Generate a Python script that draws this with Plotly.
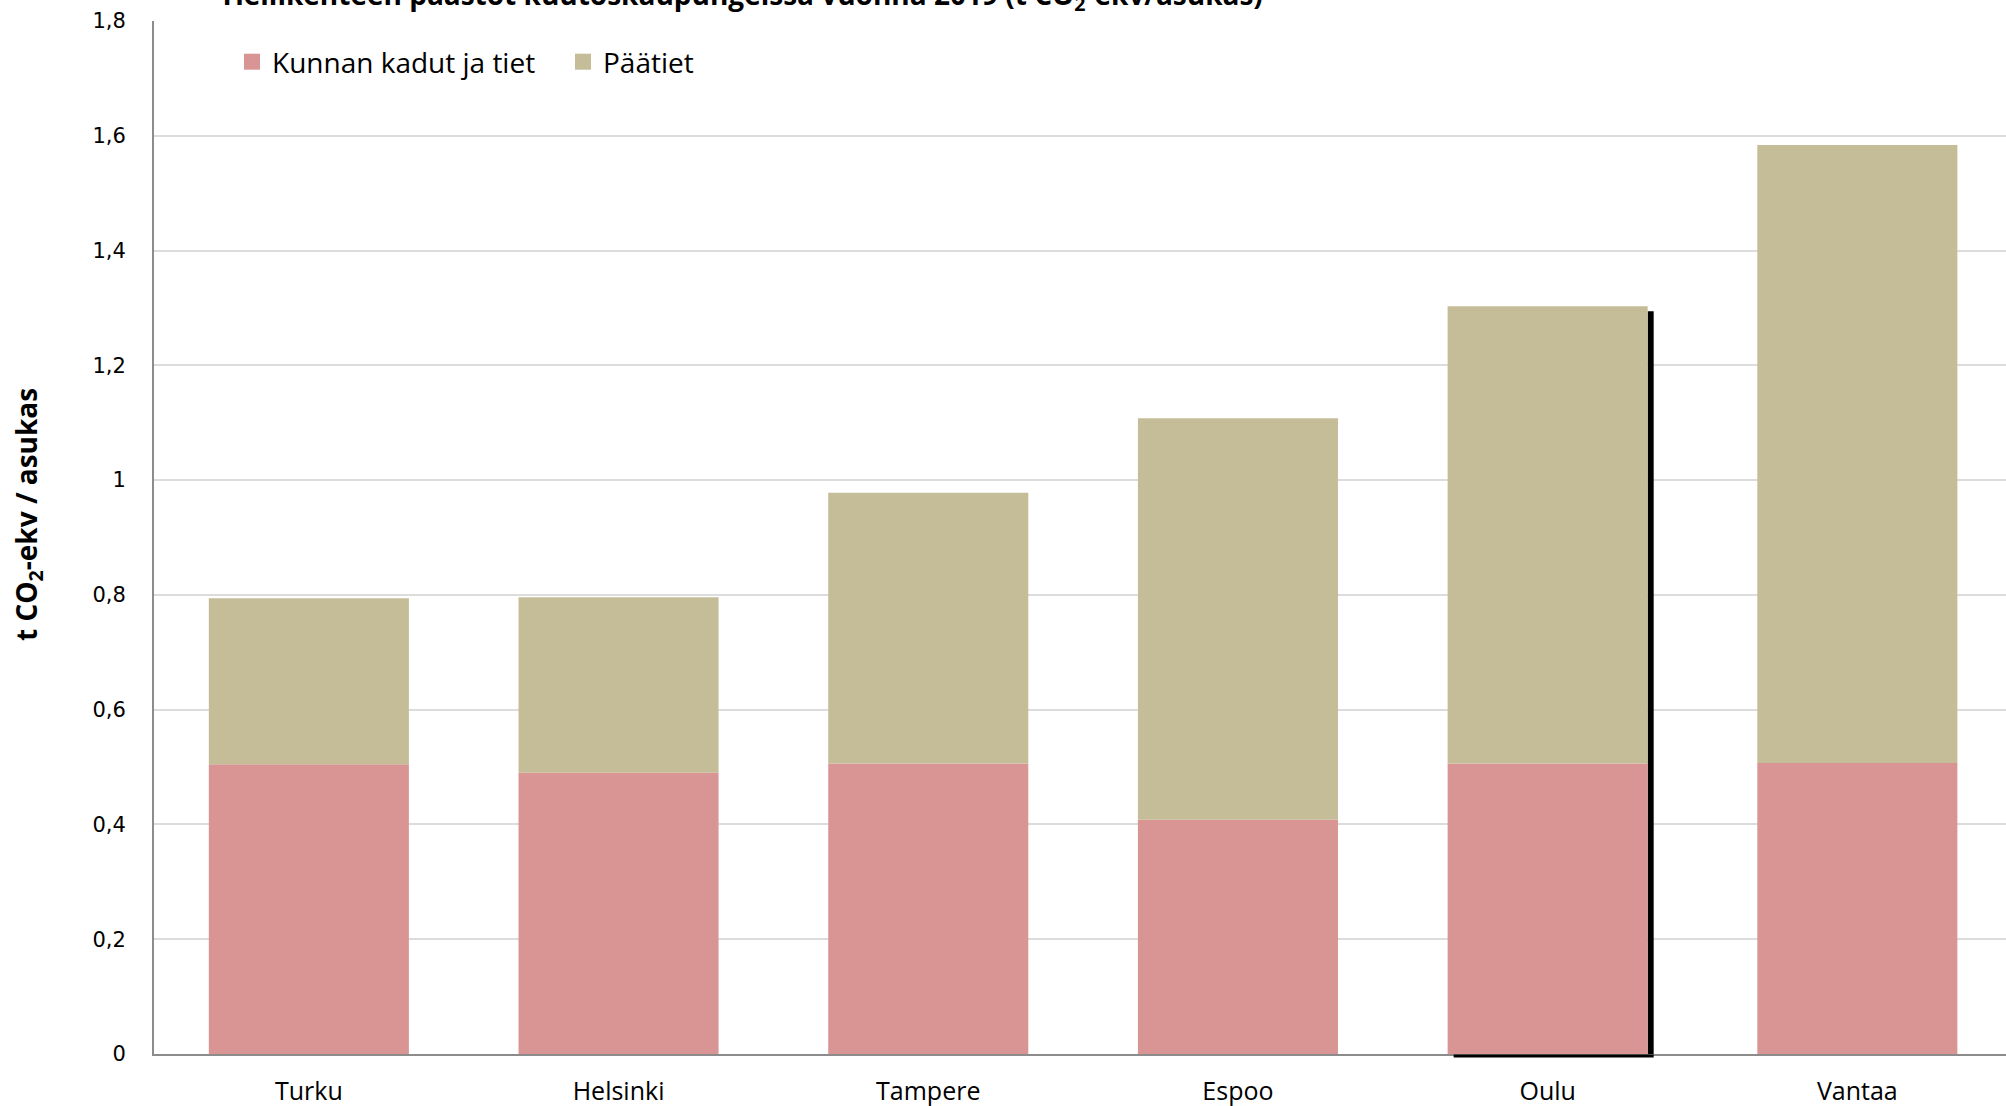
import plotly.graph_objects as go

# ---- data ----
cities = ["Turku", "Helsinki", "Tampere", "Espoo", "Oulu", "Vantaa"]
kunnan_kadut = [0.505, 0.490, 0.506, 0.408, 0.506, 0.507]
paatiet = [0.289, 0.306, 0.472, 0.700, 0.797, 1.077]
series_names = ["Kunnan kadut ja tiet", "Päätiet"]
y_ticks = [0, 0.2, 0.4, 0.6, 0.8, 1.0, 1.2, 1.4, 1.6, 1.8]
y_ticktext = ["0", "0,2", "0,4", "0,6", "0,8", "1", "1,2", "1,4", "1,6", "1,8"]
title_text = "Tieliikenteen päästöt kuutoskaupungeissa vuonna 2019 (t CO<sub>2</sub>-ekv/asukas)"
ytitle_text = "t CO<sub>2</sub>-ekv / asukas"

# ---- style ----
C_KUNNAN = "#D99594"
C_PAATIET = "#C4BD97"
BAR_W = 0.646
W, H = 2006, 1106
ML, MR, MT, MB = 154, 0, 21, 52
PW = W - ML - MR
PH = H - MT - MB
SH_DX = 6 / 309.7      # shadow offset (x units)
SH_DY = 5 / (PH / 1.8)  # shadow offset (y units)

totals = [a + b for a, b in zip(kunnan_kadut, paatiet)]
shadow_idx = cities.index("Oulu")

fig = go.Figure()

# drop shadow strip on the right of the Oulu bar
fig.add_trace(go.Bar(
    x=[cities[shadow_idx]], y=[totals[shadow_idx] - SH_DY], base=[0],
    width=SH_DX, offset=BAR_W / 2,
    marker=dict(color="black", line=dict(width=0)),
    showlegend=False, hoverinfo="skip"))

fig.add_trace(go.Bar(
    x=cities, y=kunnan_kadut, name=series_names[0], width=BAR_W,
    marker=dict(color=C_KUNNAN, line=dict(width=0)), showlegend=False))
fig.add_trace(go.Bar(
    x=cities, y=paatiet, base=kunnan_kadut, name=series_names[1], width=BAR_W,
    marker=dict(color=C_PAATIET, line=dict(width=0)), showlegend=False))

# legend entries
for nm, col in zip(series_names, [C_KUNNAN, C_PAATIET]):
    fig.add_trace(go.Scatter(
        x=[None], y=[None], mode="markers", name=nm,
        marker=dict(symbol="square", size=18, color=col)))

# bottom strip of shadow (below the axis line)
fig.add_shape(type="rect", xref="x", yref="paper",
              x0=shadow_idx - BAR_W / 2 + SH_DX, x1=shadow_idx + BAR_W / 2 + SH_DX,
              y0=-3.5 / PH, y1=-0.5 / PH,
              fillcolor="black", line=dict(width=0), layer="above")

fig.update_layout(
    width=W, height=H,
    margin=dict(l=ML, r=MR, t=MT, b=MB, pad=0),
    paper_bgcolor="white", plot_bgcolor="white",
    barmode="overlay",
    font=dict(family="Open Sans", color="black"),
    showlegend=True,
    legend=dict(orientation="h", x=(232 - ML) / PW, xanchor="left",
                y=(H - MB - 62) / PH, yanchor="middle",
                font=dict(family="Open Sans", size=28, color="black"),
                bgcolor="rgba(0,0,0,0)", itemwidth=30, tracegroupgap=0,
                entrywidth=286, entrywidthmode="pixels"),
    xaxis=dict(
        type="category", categoryorder="array", categoryarray=cities,
        range=[-0.5, -0.5 + PW / 309.7],
        showline=True, linecolor="#8C8C8C", linewidth=2,
        showgrid=False, ticks="", zeroline=False,
        tickfont=dict(family="Open Sans", size=25, color="black"),
        ticklabelstandoff=14),
    yaxis=dict(
        range=[0, 1.8], tickvals=y_ticks, ticktext=y_ticktext,
        showline=True, linecolor="#8C8C8C", linewidth=2,
        showgrid=True, gridcolor="#DCDCDC", gridwidth=2,
        zeroline=False, ticks="",
        tickfont=dict(family="DejaVu Sans", size=21, color="black"),
        ticklabelstandoff=22),
    annotations=[
        dict(text=title_text, xref="paper", yref="paper",
             x=(741 - ML) / PW, y=(H - MB - 19) / PH,
             xanchor="center", yanchor="bottom", showarrow=False,
             font=dict(family="Open Sans", size=28, color="black", weight="bold")),
        dict(text=ytitle_text, xref="paper", yref="paper",
             x=(28 - ML) / PW, y=(H - MB - 515) / PH,
             xanchor="center", yanchor="middle", textangle=-90, showarrow=False,
             font=dict(family="Open Sans", size=28, color="black", weight="bold")),
    ],
)

fig.write_html("out.html")
